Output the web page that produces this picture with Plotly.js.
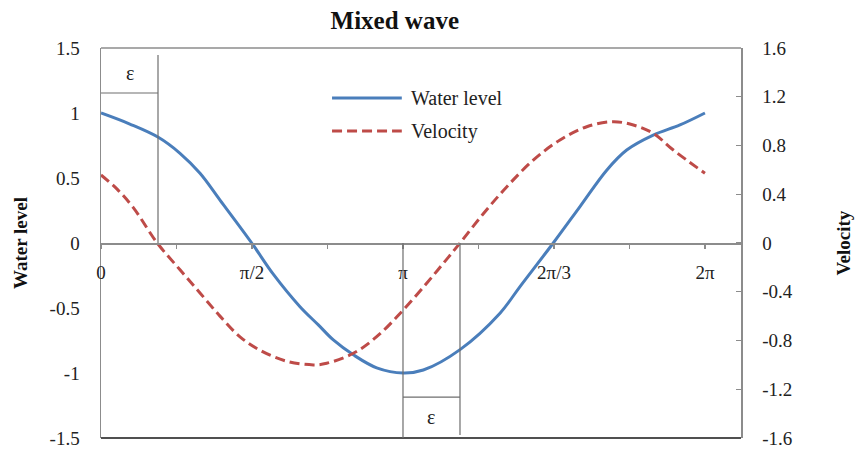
<!DOCTYPE html>
<html>
<head>
<meta charset="utf-8">
<script src="https://cdn.plot.ly/plotly-3.0.1.min.js"></script>
<style>
  html, body { margin: 0; padding: 0; background: #ffffff; }
  #chart { width: 856px; height: 452px; }
</style>
</head>
<body>
<div id="chart"></div>
<script>
const PI = Math.PI;

// Phase (radians) and values
const waterPhase = [0, 0.30, 0.596, 0.822, 1.030, 1.238, 1.568, 1.792, 2.070, 2.261, 2.417, 2.625, 2.868, 3.145, 3.353, 3.735, 4.151, 4.359, 4.705, 4.983, 5.261, 5.469, 5.745, 6.023, 6.283];
const waterLevel = [1.0, 0.915, 0.813, 0.69, 0.536, 0.33, 0.0, -0.24, -0.49, -0.63, -0.746, -0.86, -0.96, -1.0, -0.977, -0.82, -0.54, -0.335, 0.0, 0.28, 0.56, 0.715, 0.83, 0.908, 1.0];

const velPhase = [0, 0.17, 0.336, 0.585, 0.822, 1.030, 1.238, 1.446, 1.654, 1.932, 2.209, 2.348, 2.625, 2.868, 3.128, 3.388, 3.561, 3.735, 3.977, 4.220, 4.497, 4.775, 5.053, 5.330, 5.538, 5.745, 5.954, 6.283];
const velocity = [0.558, 0.44, 0.29, 0.0, -0.22, -0.41, -0.60, -0.77, -0.88, -0.97, -1.0, -0.987, -0.905, -0.769, -0.564, -0.33, -0.167, 0.0, 0.24, 0.46, 0.68, 0.845, 0.954, 0.995, 0.968, 0.90, 0.763, 0.572];

const seriesNames = ['Water level', 'Velocity'];

// Tick labels
const xTickLabels = ['0', '', 'π/2', '', 'π', '', '2π/3', '', '2π'];
const yLeftTickLabels = ['1.5', '1', '0.5', '0', '-0.5', '-1', '-1.5'];
const yLeftTickValues = [1.5, 1, 0.5, 0, -0.5, -1, -1.5];
const yRightTickLabels = ['1.6', '1.2', '0.8', '0.4', '0', '-0.4', '-0.8', '-1.2', '-1.6'];
const yRightTickValues = [1.6, 1.2, 0.8, 0.4, 0, -0.4, -0.8, -1.2, -1.6];

// Phase lag epsilon (radians)
const epsilon = 0.593;

const xTickValues = xTickLabels.map((_, i) => i * PI / 4);
const FONT = 'Liberation Serif, Times New Roman, serif';
const BLUE = '#4a7ebb';
const RED = '#be4b48';
const FRAME = '#8c8c8c';
const XMAX = 6.658;

const traces = [
  {
    x: waterPhase, y: waterLevel, name: seriesNames[0],
    type: 'scatter', mode: 'lines', xaxis: 'x', yaxis: 'y',
    line: { color: BLUE, width: 3, shape: 'spline', smoothing: 1 },
    showlegend: false, hoverinfo: 'skip'
  },
  {
    x: velPhase, y: velocity, name: seriesNames[1],
    type: 'scatter', mode: 'lines', xaxis: 'x', yaxis: 'y2',
    line: { color: RED, width: 3, dash: '10px,5px', shape: 'spline', smoothing: 1 },
    showlegend: false, hoverinfo: 'skip'
  }
];

const guide = { color: '#6e6e6e', width: 1.2 };
const shapes = [
  // plot frame
  { type: 'line', xref: 'paper', yref: 'paper', x0: 0, x1: 1, y0: 1, y1: 1, line: { color: FRAME, width: 1.5 } },
  { type: 'line', xref: 'paper', yref: 'paper', x0: 0, x1: 1, y0: 0, y1: 0, line: { color: '#505050', width: 2.2 } },
  // epsilon bracket (top-left)
  { type: 'line', xref: 'x', yref: 'y', x0: epsilon, x1: epsilon, y0: 0, y1: 1.446, line: guide },
  { type: 'line', xref: 'x', yref: 'y', x0: 0, x1: epsilon, y0: 1.154, y1: 1.154, line: guide },
  // epsilon bracket (bottom, at pi)
  { type: 'line', xref: 'x', yref: 'y', x0: PI, x1: PI, y0: 0, y1: -1.5, line: guide },
  { type: 'line', xref: 'x', yref: 'y', x0: PI + epsilon, x1: PI + epsilon, y0: 0, y1: -1.477, line: guide },
  { type: 'line', xref: 'x', yref: 'y', x0: PI, x1: PI + epsilon, y0: -1.185, y1: -1.185, line: guide },
  // legend samples
  { type: 'line', xref: 'paper', yref: 'paper', x0: 0.361, x1: 0.470, y0: 0.872, y1: 0.872, line: { color: BLUE, width: 3 } },
  { type: 'line', xref: 'paper', yref: 'paper', x0: 0.361, x1: 0.470, y0: 0.787, y1: 0.787, line: { color: RED, width: 3, dash: '10px,5px' } }
];

const annotations = [
  { xref: 'x', yref: 'y', x: epsilon / 2, y: 1.31, text: 'ε', showarrow: false, font: { family: FONT, size: 20, color: '#222' } },
  { xref: 'x', yref: 'y', x: PI + epsilon / 2, y: -1.34, text: 'ε', showarrow: false, font: { family: FONT, size: 20, color: '#222' } },
  { xref: 'paper', yref: 'paper', x: 0.481, y: 0.872, xanchor: 'left', yanchor: 'middle', text: seriesNames[0], showarrow: false, font: { family: FONT, size: 20, color: '#222' } },
  { xref: 'paper', yref: 'paper', x: 0.481, y: 0.787, xanchor: 'left', yanchor: 'middle', text: seriesNames[1], showarrow: false, font: { family: FONT, size: 20, color: '#222' } }
];

const tickFont = { family: FONT, size: 19, color: '#222' };

const layout = {
  width: 856, height: 452,
  paper_bgcolor: '#ffffff', plot_bgcolor: '#ffffff',
  margin: { l: 101, r: 115, t: 48, b: 14, pad: 0 },
  showlegend: false,
  title: {
    text: 'Mixed wave',
    font: { family: FONT, size: 25, color: '#111', weight: 'bold' },
    xref: 'paper', x: 0.459, xanchor: 'center',
    yref: 'container', y: 0.956, yanchor: 'middle'
  },
  xaxis: {
    range: [0, XMAX], anchor: 'free', position: 0.5,
    tickmode: 'array', tickvals: xTickValues, ticktext: xTickLabels,
    ticks: 'outside', ticklen: 4, tickwidth: 1.2, tickcolor: FRAME,
    showline: true, linecolor: FRAME, linewidth: 1.5,
    showgrid: false, zeroline: false,
    tickfont: tickFont, ticklabelstandoff: 8, fixedrange: true
  },
  xaxis2: {
    range: [0, XMAX], overlaying: 'x', anchor: 'free', position: 0.5,
    tickmode: 'array', tickvals: xTickValues, ticktext: xTickLabels,
    ticks: 'inside', ticklen: 4, tickwidth: 1.2, tickcolor: FRAME,
    showticklabels: false, showline: false, showgrid: false, zeroline: false, fixedrange: true
  },
  yaxis: {
    range: [-1.5, 1.5],
    tickmode: 'array', tickvals: yLeftTickValues, ticktext: yLeftTickLabels,
    ticks: '', showline: true, linecolor: FRAME, linewidth: 1.5,
    showgrid: false, zeroline: false,
    tickfont: tickFont, ticklabelstandoff: 16, fixedrange: true,
    title: { text: 'Water level', standoff: 17, font: { family: FONT, size: 19, color: '#111', weight: 'bold' } }
  },
  yaxis2: {
    range: [-1.6, 1.6], overlaying: 'y', side: 'right', anchor: 'x',
    tickmode: 'array', tickvals: yRightTickValues, ticktext: yRightTickLabels,
    ticks: 'inside', ticklen: 5, tickwidth: 1.2, tickcolor: FRAME,
    showline: true, linecolor: FRAME, linewidth: 1.5,
    showgrid: false, zeroline: false,
    tickfont: tickFont, ticklabelstandoff: 16, fixedrange: true,
    title: { text: 'Velocity', standoff: 45, font: { family: FONT, size: 19, color: '#111', weight: 'bold' } }
  },
  shapes: shapes,
  annotations: annotations
};

Plotly.newPlot('chart', traces, layout, { staticPlot: true, displayModeBar: false });
</script>
</body>
</html>
